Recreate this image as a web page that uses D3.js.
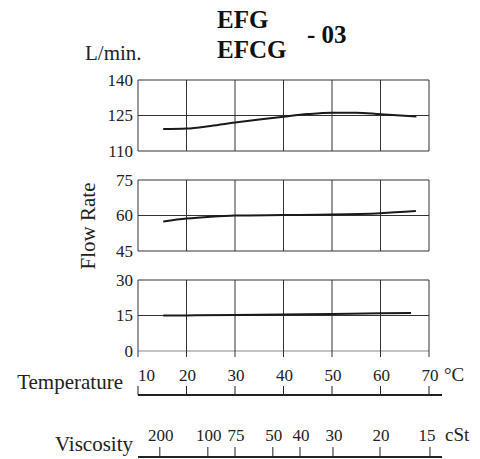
<!DOCTYPE html>
<html><head><meta charset="utf-8">
<script src="https://cdn.jsdelivr.net/npm/d3@7"></script>
<style>
html,body{margin:0;padding:0;background:#fff;}
</style></head>
<body><svg id="c" width="480" height="459" style="font-family:'Liberation Serif'"></svg>
<script>
// ---- data ----
const tempTicks = [10, 20, 30, 40, 50, 60, 70];
const viscTicks = [200, 100, 75, 50, 40, 30, 20, 15];
const viscAtTemp = [14.5, 24.4, 30, 37.8, 43.4, 50.2, 59.9, 70.2];

const panel1Ticks = [110, 125, 140];
const panel2Ticks = [45, 60, 75];
const panel3Ticks = [0, 15, 30];

const temp1 = [15.2, 20, 25, 30, 35, 40, 45, 50, 55, 60, 67.4];
const flow1 = [119.3, 119.5, 120.6, 122, 123.3, 124.5, 125.6, 126.2, 126.2, 125.5, 124.6];
const temp2 = [15.2, 20, 25, 30, 40, 50, 60, 67.3];
const flow2 = [57.5, 58.7, 59.5, 60, 60.2, 60.4, 61, 61.9];
const temp3 = [15.2, 20, 30, 40, 50, 60, 66.3];
const flow3 = [15, 15.05, 15.25, 15.45, 15.65, 15.9, 16.1];

// ---- drawing ----
const svg = d3.select("#c");
const x = d3.scaleLinear().domain([10, 70]).range([138, 429]);

function txt(sel) {
  return sel.append("text").attr("font-family", "Liberation Serif")
    .style("font-family", "'Liberation Serif'").attr("fill", "#222");
}

const panels = [
  {top: 80, ticks: panel1Ticks, t: temp1, v: flow1},
  {top: 180, ticks: panel2Ticks, t: temp2, v: flow2},
  {top: 280, ticks: panel3Ticks, t: temp3, v: flow3, last: true}
];
const ph = 71;

panels.forEach(p => {
  const y = d3.scaleLinear().domain([p.ticks[0], p.ticks[2]]).range([p.top + ph, p.top]);
  const g = svg.append("g");
  p.ticks.forEach((t, i) => {
    g.append("line").attr("x1", x(10)).attr("x2", x(70))
      .attr("y1", y(t)).attr("y2", y(t))
      .attr("stroke", (p.last && i === 0) ? "#888" : "#333").attr("stroke-width", 1);
  });
  const ext = p.last ? 6 : 0;
  tempTicks.forEach(t => {
    g.append("line").attr("x1", x(t)).attr("x2", x(t))
      .attr("y1", p.top).attr("y2", p.top + ph + ext)
      .attr("stroke", "#333").attr("stroke-width", 1);
  });
  p.ticks.forEach(t => {
    txt(g).attr("x", 133).attr("y", y(t)).attr("dy", "0.34em")
      .attr("text-anchor", "end").attr("font-size", 17).text(t);
  });
  const line = d3.line().x((d, i) => x(p.t[i])).y(d => y(d)).curve(d3.curveMonotoneX);
  g.append("path").attr("d", line(p.v)).attr("fill", "none")
    .attr("stroke", "#1a1a1a").attr("stroke-width", 2);
});

// Title
txt(svg).attr("x", 217).attr("y", 28).attr("font-size", 25).attr("font-weight", "bold").attr("fill", "#111").text("EFG");
txt(svg).attr("x", 217).attr("y", 58).attr("font-size", 25).attr("font-weight", "bold").attr("fill", "#111").text("EFCG");
txt(svg).attr("x", 307).attr("y", 43).attr("font-size", 25).attr("font-weight", "bold").attr("fill", "#111").text("- 03");
txt(svg).attr("x", 85).attr("y", 60).attr("font-size", 21).text("L/min.");

// Flow Rate
txt(svg).attr("transform", "translate(95,226) rotate(-90)")
  .attr("text-anchor", "middle").attr("font-size", 21).text("Flow Rate");

// Temperature axis
const tAxisY = 395;
svg.append("line").attr("x1", 138).attr("x2", 442).attr("y1", tAxisY).attr("y2", tAxisY)
  .attr("stroke", "#222").attr("stroke-width", 2);
tempTicks.forEach((t, i) => {
  svg.append("line").attr("x1", x(t)).attr("x2", x(t)).attr("y1", tAxisY - 9).attr("y2", tAxisY)
    .attr("stroke", "#222").attr("stroke-width", 1);
  txt(svg).attr("x", i === 0 ? x(t) : x(t) + 1).attr("y", 381)
    .attr("text-anchor", i === 0 ? "start" : "middle").attr("font-size", 17).text(t);
});
txt(svg).attr("x", 444).attr("y", 381).attr("font-size", 19).text("°C");
txt(svg).attr("x", 123).attr("y", 389).attr("text-anchor", "end").attr("font-size", 21).text("Temperature");

// Viscosity axis
const vAxisY = 457;
const vx = d3.scaleLinear().domain(viscTicks).range(viscAtTemp.map(x));
svg.append("line").attr("x1", 138).attr("x2", 442).attr("y1", vAxisY).attr("y2", vAxisY)
  .attr("stroke", "#222").attr("stroke-width", 2);
viscTicks.forEach(v => {
  svg.append("line").attr("x1", vx(v)).attr("x2", vx(v)).attr("y1", vAxisY - 10).attr("y2", vAxisY)
    .attr("stroke", "#222").attr("stroke-width", 1);
  txt(svg).attr("x", vx(v) + (v === 15 ? -3 : 1)).attr("y", 441)
    .attr("text-anchor", "middle").attr("font-size", 17).text(v);
});
txt(svg).attr("x", 445).attr("y", 441).attr("font-size", 19).text("cSt");
txt(svg).attr("x", 133).attr("y", 451).attr("text-anchor", "end").attr("font-size", 21).text("Viscosity");
</script></body></html>
